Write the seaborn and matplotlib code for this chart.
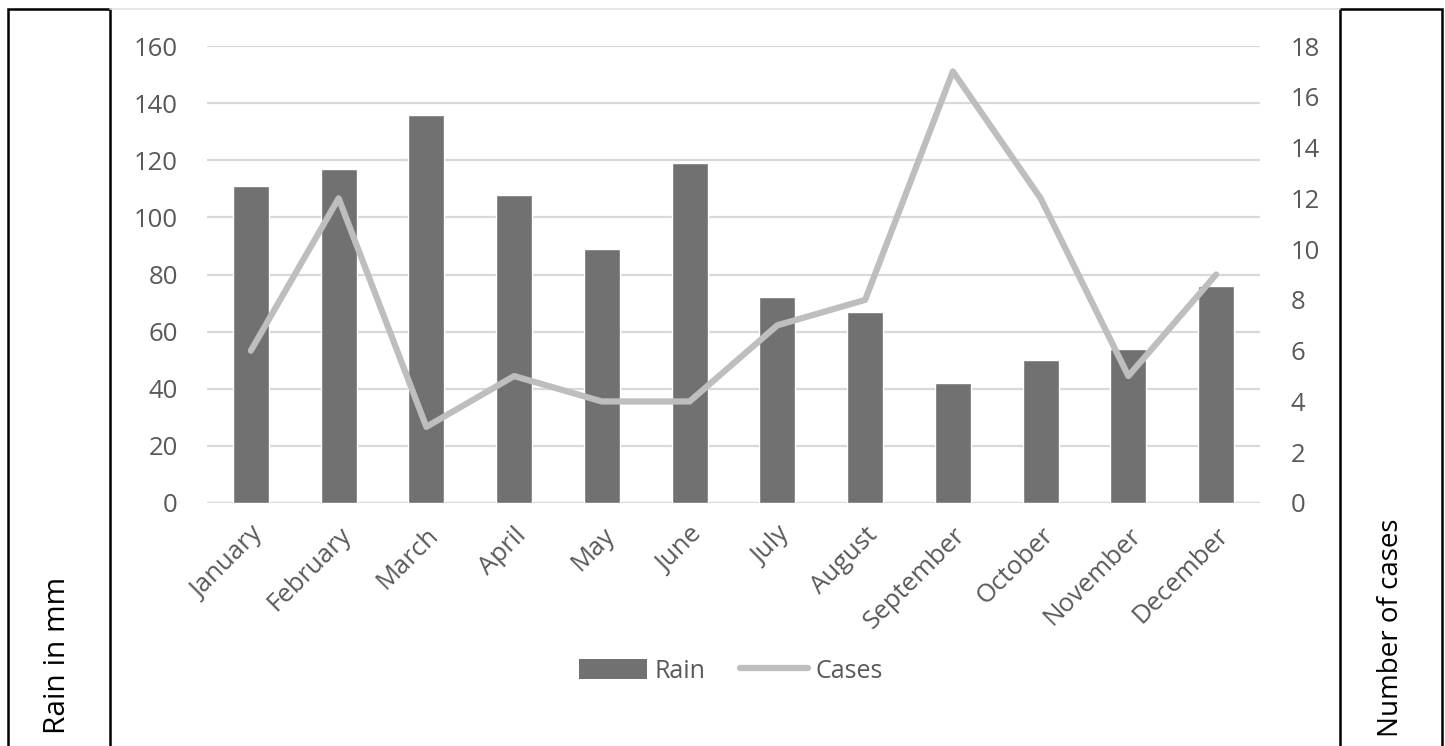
import matplotlib
matplotlib.use("Agg")
import matplotlib.pyplot as plt
import seaborn as sns
import pandas as pd
from matplotlib.patches import Rectangle, Patch
from matplotlib.lines import Line2D

months = ["January", "February", "March", "April", "May", "June",
          "July", "August", "September", "October", "November", "December"]
rain_mm = [111, 117, 136, 108, 89, 119, 72, 67, 42, 50, 54, 76]
cases = [6, 12, 3, 5, 4, 4, 7, 8, 17, 12, 5, 9]
rain_ticks = list(range(0, 161, 20))
case_ticks = list(range(0, 19, 2))

BAR_COLOR = "#717171"
LINE_COLOR = "#BEBEBE"
GRID_COLOR = "#D9D9D9"
TEXT_COLOR = "#595959"

sns.set_theme(style="white")
plt.rcParams["font.family"] = ["Open Sans", "DejaVu Sans"]

df = pd.DataFrame({"Month": months, "Rain": rain_mm, "Cases": cases})

fig = plt.figure(figsize=(14.45, 7.46), dpi=100)
ax = fig.add_axes([207 / 1445, 1 - 503 / 746, (1260 - 207) / 1445, (503 - 46) / 746])

sns.barplot(data=df, x="Month", y="Rain", color=BAR_COLOR, width=0.41,
            saturation=1, ax=ax, zorder=3)
ax.set_ylim(0, 160)
ax.set_yticks(rain_ticks)
ax.set_xlim(-0.5, 11.5)
ax.yaxis.grid(True, color=GRID_COLOR, linewidth=1.6, zorder=0)
ax.set_axisbelow(True)
ax.set_xlabel("")
ax.set_ylabel("")
for s in ax.spines.values():
    s.set_visible(False)
ax.axhline(0, color=GRID_COLOR, linewidth=1.6, zorder=1)
ax.tick_params(axis="y", length=0, pad=21, labelsize=18.5, labelcolor=TEXT_COLOR)
ax.tick_params(axis="x", length=0, pad=14, labelsize=18.5, labelcolor=TEXT_COLOR)
plt.setp(ax.get_xticklabels(), rotation=45, ha="right", rotation_mode="anchor")

ax2 = ax.twinx()
sns.lineplot(data=df, x="Month", y="Cases", sort=False, color=LINE_COLOR,
             linewidth=4.5, ax=ax2, zorder=4)
ax2.set_ylim(0, 18)
ax2.set_yticks(case_ticks)
ax2.set_xlim(-0.5, 11.5)
ax2.set_ylabel("")
for s in ax2.spines.values():
    s.set_visible(False)
ax2.tick_params(axis="y", length=0, pad=22, labelsize=18.5, labelcolor=TEXT_COLOR)
ax2.grid(False)

# side boxes with the axis titles
for x0 in (8, 1340):
    fig.add_artist(Rectangle((x0 / 1445, -0.05), 102 / 1445, 1 - 9 / 746 + 0.05,
                             transform=fig.transFigure, fill=False,
                             edgecolor="black", linewidth=1.8, clip_on=False))
fig.add_artist(Line2D([110 / 1445, 1340 / 1445], [1 - 9 / 746, 1 - 9 / 746],
                      transform=fig.transFigure, color="#E3E3E3", linewidth=1.2))
fig.text(58 / 1445, 1 - 655 / 746, "Rain in mm", rotation=90, ha="center",
         va="center", fontsize=21.5, color="black")
fig.text(1391 / 1445, 1 - 628 / 746, "Number of cases", rotation=90, ha="center",
         va="center", fontsize=20, color="black")

handles = [Patch(facecolor=BAR_COLOR, edgecolor="none"),
           Line2D([0], [0], color=LINE_COLOR, linewidth=4.5, solid_capstyle="round")]
fig.legend(handles, ["Rain", "Cases"], loc="center", bbox_to_anchor=(731 / 1445, 1 - 671 / 746),
           ncol=2, frameon=False, fontsize=18, labelcolor=TEXT_COLOR,
           handlelength=2.7, handleheight=0.9, columnspacing=1.4, handletextpad=0.3)

fig.savefig("out.png", dpi=100)
